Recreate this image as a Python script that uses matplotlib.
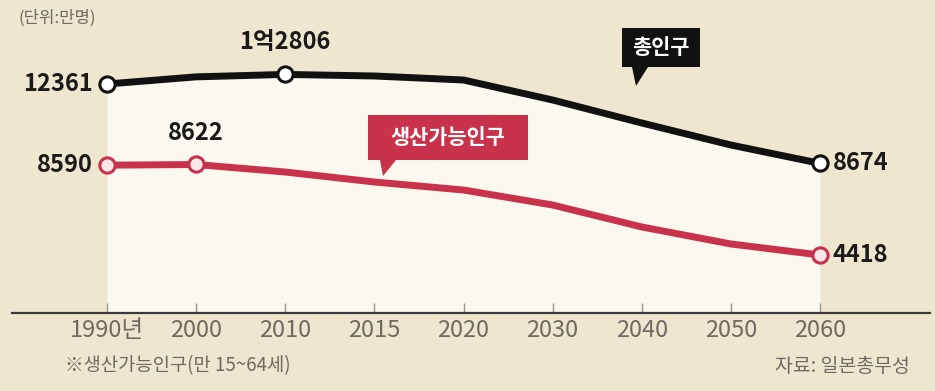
import matplotlib
matplotlib.use("Agg")
import matplotlib.pyplot as plt
from matplotlib.patches import Polygon
import numpy as np

# ---- data ----
years = ["1990년", "2000", "2010", "2015", "2020", "2030", "2040", "2050", "2060"]
total_pop = [12361, 12693, 12806, 12733, 12547, 11618, 10550, 9527, 8674]
working_pop = [8590, 8622, 8273, 7809, 7437, 6740, 5720, 4930, 4418]
total_labels = {0: "12361", 2: "1억2806", 8: "8674"}
working_labels = {0: "8590", 1: "8622", 8: "4418"}
unit_text = "(단위:만명)"
note_text = "※생산가능인구(만 15~64세)"
source_text = "자료: 일본총무성"
legend_total = "총인구"
legend_working = "생산가능인구"

FONT = ["Liberation Sans Narrow", "Noto Sans CJK KR", "DejaVu Sans"]
plt.rcParams["font.family"] = FONT

BG = "#efe6cf"
PANEL = "#fbf8f0"
BLACK = "#111111"
RED = "#c8324a"
PINK = "#fbe6e8"
GRAY = "#6e6a62"

W, H = 935, 391
fig = plt.figure(figsize=(W / 100, H / 100), dpi=100, facecolor=BG)

# axes: baseline at y=313px, spanning x 12..930 px
ax_left, ax_right, base_px = 12, 930, 313
ax = fig.add_axes([ax_left / W, (H - base_px) / H, (ax_right - ax_left) / W, base_px / H])
ax.set_facecolor("none")

x = np.arange(len(years))
px_per_unit = (820 - 107) / 8
xmin = -(107 - ax_left) / px_per_unit
xmax = xmin + (ax_right - ax_left) / px_per_unit
ax.set_xlim(xmin, xmax)
ymin, ymax = 1724, 16263
ax.set_ylim(ymin, ymax)

ax.fill_between(x, total_pop, ymin, color=PANEL, zorder=0, lw=0)

ax.plot(x, total_pop, color=BLACK, lw=5, solid_joinstyle="round", solid_capstyle="round", zorder=3)
ax.plot(x, working_pop, color=RED, lw=5, solid_joinstyle="round", solid_capstyle="round", zorder=3)

tm = list(total_labels.keys())
wm = list(working_labels.keys())
ax.plot(x[tm], np.array(total_pop)[tm], "o", ms=11, mfc="white", mec=BLACK, mew=2.2, zorder=4)
ax.plot(x[wm], np.array(working_pop)[wm], "o", ms=11, mfc=PINK, mec=RED, mew=2.2, zorder=4)

lab_kw = dict(fontsize=17, fontweight="bold", color="#1a1a1a", va="center")
# left labels
ax.annotate(total_labels[0], (x[0], total_pop[0]), xytext=(-10, 0), textcoords="offset points", ha="right", **lab_kw)
ax.annotate(working_labels[0], (x[0], working_pop[0]), xytext=(-10, 0), textcoords="offset points", ha="right", **lab_kw)
# above labels
ax.annotate(total_labels[2], (x[2], total_pop[2]), xytext=(0, 23), textcoords="offset points", ha="center", **lab_kw)
ax.annotate(working_labels[1], (x[1], working_pop[1]), xytext=(0, 23), textcoords="offset points", ha="center", **lab_kw)
# right labels
ax.annotate(total_labels[8], (x[8], total_pop[8]), xytext=(9, 0), textcoords="offset points", ha="left", **lab_kw)
ax.annotate(working_labels[8], (x[8], working_pop[8]), xytext=(9, 0), textcoords="offset points", ha="left", **lab_kw)

# axis styling
for s in ["top", "left", "right"]:
    ax.spines[s].set_visible(False)
ax.spines["bottom"].set_color("#3a3a3a")
ax.spines["bottom"].set_linewidth(1.6)
ax.set_yticks([])
ax.set_xticks(x)
ax.set_xticklabels(years)
ax.tick_params(axis="x", direction="in", length=7, width=1, color="#9a958a",
               labelsize=17, labelcolor=GRAY, pad=4)

# texts
fig.text(18 / W, 1 - 18 / H, unit_text, fontsize=12, color=GRAY, va="center", ha="left")
fig.text(65 / W, 1 - 366 / H, note_text, fontsize=13.5, color=GRAY, va="center", ha="left")
fig.text(910 / W, 1 - 366 / H, source_text, fontsize=14, color=GRAY, va="center", ha="right")

# callouts (pixel coordinates)
def callout(x0, y0, x1, y1, tail, text, color):
    box = Polygon([(x0 / W, 1 - y0 / H), (x1 / W, 1 - y0 / H), (x1 / W, 1 - y1 / H),
                   (tail[1] / W, 1 - y1 / H), (tail[2] / W, 1 - tail[3] / H),
                   (tail[0] / W, 1 - y1 / H), (x0 / W, 1 - y1 / H)],
                  closed=True, transform=fig.transFigure, facecolor=color, edgecolor="none", zorder=5)
    fig.add_artist(box)
    fig.text((x0 + x1) / 2 / W, 1 - (y0 + y1) / 2 / H, text, fontsize=15, fontweight="bold",
             color="white", ha="center", va="center", zorder=6, family=["Noto Sans CJK KR", "DejaVu Sans"])

callout(622, 28, 700, 67, (632, 648, 636, 86), legend_total, BLACK)
callout(368, 115, 528, 160, (380, 396, 383, 176), legend_working, RED)

fig.savefig("out.png", dpi=100, facecolor=BG)
